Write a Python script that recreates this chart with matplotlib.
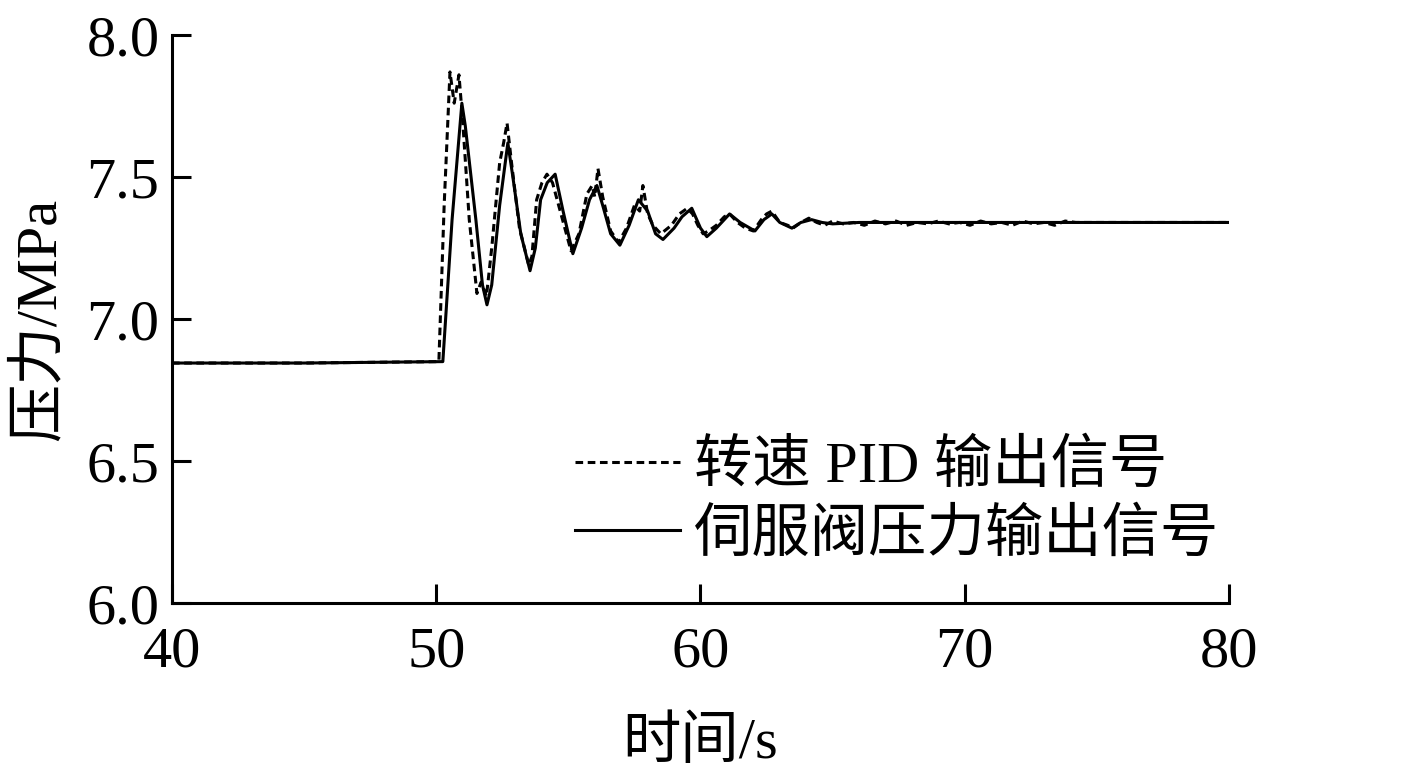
import matplotlib
matplotlib.use("Agg")
import matplotlib.pyplot as plt

plt.rcParams['font.family'] = ['Liberation Serif', 'Noto Sans CJK SC', 'DejaVu Sans']
plt.rcParams['axes.unicode_minus'] = False

# ---- data ----
t_pid = [40, 45, 50.1, 50.3, 50.52, 50.68, 50.86, 51.0, 51.25, 51.54, 51.7, 51.9,
         52.1, 52.4, 52.55, 52.68, 52.85, 53.15, 53.5, 53.62, 53.8, 54.0, 54.19,
         54.4, 54.75, 55.1, 55.4, 55.7, 55.9, 56.0, 56.12, 56.3, 56.6, 56.9,
         57.2, 57.5, 57.7, 57.82, 58.0, 58.2, 58.5, 58.9, 59.2, 59.5, 59.7,
         59.9, 60.1, 60.3, 60.6, 60.9, 61.1, 61.4, 61.7, 62.0, 62.3, 62.5,
         62.7, 63.0, 63.3, 63.5, 63.8, 64.1, 64.4, 64.7, 65.0, 65.4, 65.8,
         66.2, 66.6, 67.0, 67.4, 67.8, 68.2, 68.6, 69.0, 69.4, 69.8, 70.2,
         70.6, 71.0, 71.4, 71.8, 72.2, 72.6, 73.0, 73.4, 73.8, 74.2, 80]
p_pid = [6.845, 6.845, 6.85, 7.40, 7.87, 7.76, 7.86, 7.70, 7.35, 7.09, 7.13, 7.08,
         7.25, 7.55, 7.62, 7.69, 7.55, 7.32, 7.19, 7.22, 7.42, 7.48, 7.51,
         7.48, 7.36, 7.24, 7.30, 7.44, 7.47, 7.43, 7.53, 7.43, 7.31, 7.27,
         7.32, 7.40, 7.38, 7.47, 7.37, 7.33, 7.30, 7.33, 7.37, 7.39, 7.37,
         7.33, 7.30, 7.31, 7.33, 7.36, 7.37, 7.34, 7.32, 7.31, 7.35, 7.37,
         7.38, 7.34, 7.33, 7.32, 7.34, 7.355, 7.34, 7.33, 7.345, 7.335, 7.34,
         7.33, 7.345, 7.335, 7.345, 7.33, 7.34, 7.335, 7.345, 7.335, 7.34, 7.33,
         7.345, 7.335, 7.34, 7.33, 7.345, 7.335, 7.34, 7.33, 7.345, 7.34, 7.34]

t_servo = [40, 45, 50.25, 50.6, 50.97, 51.1, 51.5, 51.75, 51.92, 52.1, 52.4, 52.71,
           52.9, 53.2, 53.55, 53.75, 53.95, 54.2, 54.5, 54.8, 55.17, 55.5, 55.8,
           56.08, 56.3, 56.6, 56.95, 57.3, 57.65, 58.0, 58.3, 58.58, 59.0, 59.3,
           59.67, 60.0, 60.24, 60.6, 61.1, 61.5, 62.06, 62.4, 62.7, 63.0, 63.46,
           63.8, 64.2, 64.6, 65.0, 66.0, 68.0, 72.0, 80]
p_servo = [6.845, 6.845, 6.85, 7.35, 7.76, 7.68, 7.35, 7.12, 7.05, 7.12, 7.40, 7.62,
           7.50, 7.30, 7.17, 7.25, 7.42, 7.48, 7.51, 7.38, 7.23, 7.32, 7.42,
           7.47, 7.40, 7.30, 7.26, 7.33, 7.42, 7.38, 7.30, 7.28, 7.32, 7.36,
           7.39, 7.32, 7.29, 7.32, 7.37, 7.34, 7.31, 7.35, 7.37, 7.34, 7.32,
           7.34, 7.35, 7.34, 7.335, 7.34, 7.34, 7.34, 7.34]

x_ticks = [40, 50, 60, 70, 80]
y_ticks = [6.0, 6.5, 7.0, 7.5, 8.0]
label_pid = "转速 PID 输出信号"
label_servo = "伺服阀压力输出信号"

fs = 42
fig = plt.figure(figsize=(14.13, 7.73), dpi=100)
ax = fig.add_axes([0.1217, 0.2199, 0.7481, 0.7348])

ax.plot(t_pid, p_pid, color='black', lw=2.2, ls=(0, (2.5, 1.5)), label=label_pid)
ax.plot(t_servo, p_servo, color='black', lw=2.2, ls='-', label=label_servo)

ax.set_xlim(40, 80)
ax.set_ylim(6.0, 8.0)
ax.set_xticks(x_ticks)
ax.set_xticklabels([str(v) for v in x_ticks])
ax.set_yticks(y_ticks)
ax.set_yticklabels([f"{v:.1f}" for v in y_ticks])
for s in ['top', 'right']:
    ax.spines[s].set_visible(False)
for s in ['left', 'bottom']:
    ax.spines[s].set_linewidth(2.2)
ax.tick_params(direction='in', length=14, width=2.2, labelsize=fs)
ax.tick_params(axis='y', pad=9)
ax.tick_params(axis='x', pad=17)

ax.set_xlabel("时间/s", fontsize=fs, labelpad=27)
ax.set_ylabel("压力/MPa", fontsize=fs, labelpad=14)

leg = ax.legend(loc='upper left', bbox_to_anchor=(0.381, 0.288), frameon=False,
                fontsize=fs, handlelength=1.8, handletextpad=0.25,
                labelspacing=0.24, borderpad=0.0, borderaxespad=0.0)

fig.savefig("out.png", dpi=100)
